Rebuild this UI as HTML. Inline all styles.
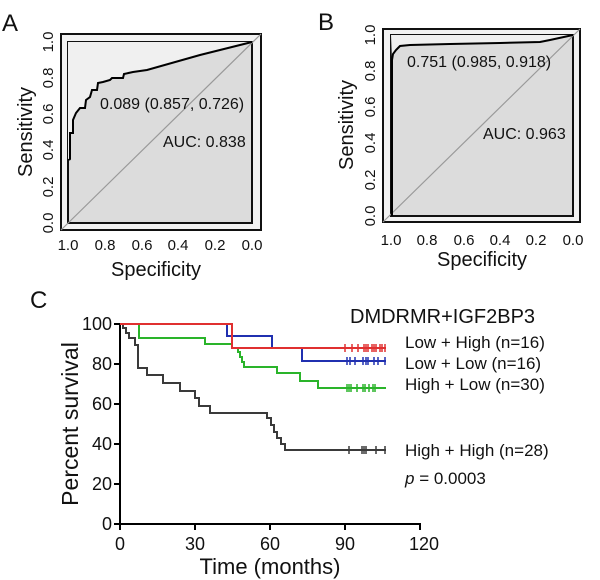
<!DOCTYPE html>
<html><head><style>body{margin:0;background:#fff}svg{display:block}text{font-family:"Liberation Sans",Arial,sans-serif;fill:#111}</style></head>
<body>
<svg width="600" height="580" viewBox="0 0 600 580">
<!-- Panel A -->
<text x="2" y="31" font-size="24">A</text>
<rect x="61" y="34" width="200" height="196" fill="#f2f2f2" stroke="#111" stroke-width="2"/>
<rect x="68" y="42" width="184" height="181" fill="#dcdcdc" stroke="#111" stroke-width="2"/>
<polygon points="68,42 68,159 70,159 70,133 73,133 73,120 76,113 80,108 85,108 86,100 90,97 92,90 97,90 98,83 103,82 110,80 112,78 123,78 124,74 133,72 147,70 200,55 252,42" fill="#f0f0f0"/>
<line x1="61" y1="230" x2="261" y2="34" stroke="#999" stroke-width="1.2"/>
<polyline points="69,160 70,159 70,133 73,133 73,120 76,113 80,108 85,108 86,100 90,97 92,90 97,90 98,83 103,82 110,80 112,78 123,78 124,74 133,72 147,70 200,55 252,42" fill="none" stroke="#000" stroke-width="2"/>
<text x="100" y="109" font-size="16">0.089 (0.857, 0.726)</text>
<text x="163" y="147" font-size="16">AUC: 0.838</text>
<g font-size="15" text-anchor="middle">
<text x="68" y="250">1.0</text><text x="105" y="250">0.8</text><text x="142" y="250">0.6</text><text x="178" y="250">0.4</text><text x="215" y="250">0.2</text><text x="252" y="250">0.0</text>
<g transform="rotate(-90)"><text x="-223" y="53">0.0</text><text x="-187" y="53">0.2</text><text x="-150" y="53">0.4</text><text x="-114" y="53">0.6</text><text x="-78" y="53">0.8</text><text x="-42" y="53">1.0</text></g>
</g>
<text x="156" y="276" font-size="20" text-anchor="middle">Specificity</text>
<text transform="translate(32,132) rotate(-90)" font-size="20" text-anchor="middle">Sensitivity</text>
<!-- Panel B -->
<text x="318" y="30" font-size="24">B</text>
<rect x="383" y="29" width="197" height="193" fill="#f2f2f2" stroke="#111" stroke-width="2"/>
<rect x="391" y="35" width="182" height="181" fill="#dcdcdc" stroke="#111" stroke-width="2"/>
<polygon points="391,35 392,60 393,54 396,50 398,48 400,46 410,45 450,44 500,43 540,42 550,40 573,35" fill="#f0f0f0"/>
<line x1="383" y1="222" x2="580" y2="29" stroke="#999" stroke-width="1.2"/>
<polyline points="392,216 392,60 393,54 396,50 398,48 400,46 410,45 450,44 500,43 540,42 550,40 573,35" fill="none" stroke="#000" stroke-width="2"/>
<text x="407" y="67" font-size="16">0.751 (0.985, 0.918)</text>
<text x="483" y="139" font-size="16">AUC: 0.963</text>
<g font-size="15" text-anchor="middle">
<text x="391" y="245">1.0</text><text x="427" y="245">0.8</text><text x="464" y="245">0.6</text><text x="500" y="245">0.4</text><text x="536" y="245">0.2</text><text x="573" y="245">0.0</text>
<g transform="rotate(-90)"><text x="-216" y="375">0.0</text><text x="-180" y="375">0.2</text><text x="-143" y="375">0.4</text><text x="-107" y="375">0.6</text><text x="-71" y="375">0.8</text><text x="-35" y="375">1.0</text></g>
</g>
<text x="482" y="266" font-size="20" text-anchor="middle">Specificity</text>
<text transform="translate(353,125) rotate(-90)" font-size="20" text-anchor="middle">Sensitivity</text>
<!-- Panel C -->
<text x="30" y="308" font-size="24">C</text>
<g stroke="#000" stroke-width="2">
<line x1="120" y1="323" x2="120" y2="524"/><line x1="119" y1="524" x2="421" y2="524"/>
<line x1="114" y1="324" x2="120" y2="324"/><line x1="114" y1="364" x2="120" y2="364"/><line x1="114" y1="404" x2="120" y2="404"/><line x1="114" y1="444" x2="120" y2="444"/><line x1="114" y1="484" x2="120" y2="484"/><line x1="114" y1="524" x2="120" y2="524"/>
<line x1="120" y1="524" x2="120" y2="530"/><line x1="195" y1="524" x2="195" y2="530"/><line x1="270" y1="524" x2="270" y2="530"/><line x1="345" y1="524" x2="345" y2="530"/><line x1="420" y1="524" x2="420" y2="530"/>
</g>
<g font-size="18" text-anchor="end">
<text x="112" y="330">100</text><text x="112" y="370">80</text><text x="112" y="410">60</text><text x="112" y="450">40</text><text x="112" y="490">20</text><text x="112" y="530">0</text>
</g>
<g font-size="18" text-anchor="middle">
<text x="120" y="550">0</text><text x="195" y="550">30</text><text x="270" y="550">60</text><text x="345" y="550">90</text><text x="424" y="550">120</text>
</g>
<text x="270" y="574" font-size="22" text-anchor="middle">Time (months)</text>
<text transform="translate(78,424) rotate(-90)" font-size="23" text-anchor="middle">Percent survival</text>
<g fill="none" stroke-width="2">
<polyline stroke="#3a3a3a" points="120,324 123,324 123,328 126,328 126,333 129,333 129,338 135,338 135,345 138,345 138,368 147,368 147,375 163,375 163,383 180,383 180,391 195,391 195,398 199,398 199,406 210,406 210,413 267,413 267,418 271,418 271,425 274,425 274,432 277,432 277,438 281,438 281,444 285,444 285,450 386,450"/>
<polyline stroke="#2ab42a" points="120,324 139,324 139,338 205,338 205,344 232,344 232,348 238,348 238,352 240,352 240,357 242,357 242,362 244,362 244,367 277,367 277,373 300,373 300,381 318,381 318,388 386,388"/>
<polyline stroke="#2030b0" points="120,324 227,324 227,336 272,336 272,348 302,348 302,361 386,361"/>
<polyline stroke="#e03030" points="120,324 232,324 232,348 386,348"/>
</g>
<g stroke-width="1.5">
<path stroke="#e03030" d="M345,344v8M352,344v8M358,344v8M364,344v8M366,344v8M368,344v8M372,344v8M374,344v8M376,344v8M380,344v8M382,344v8M385,344v8"/>
<path stroke="#2030b0" d="M347,357v8M350,357v8M355,357v8M363,357v8M366,357v8M368,357v8M374,357v8M378,357v8M385,357v8"/>
<path stroke="#2ab42a" d="M347,384v8M349,384v8M351,384v8M357,384v8M363,384v8M365,384v8M369,384v8M373,384v8M375,384v8"/>
<path stroke="#3a3a3a" d="M349,446v8M362,446v8M364,446v8M366,446v8M376,446v8M385,446v8"/>
</g>
<text x="350" y="323" font-size="20">DMDRMR+IGF2BP3</text>
<g font-size="17">
<text x="405" y="348">Low + High (n=16)</text>
<text x="405" y="369">Low + Low  (n=16)</text>
<text x="405" y="390">High + Low  (n=30)</text>
<text x="405" y="456">High + High (n=28)</text>
<text x="405" y="484"><tspan font-style="italic">p</tspan> = 0.0003</text>
</g>
</svg>
</body></html>
